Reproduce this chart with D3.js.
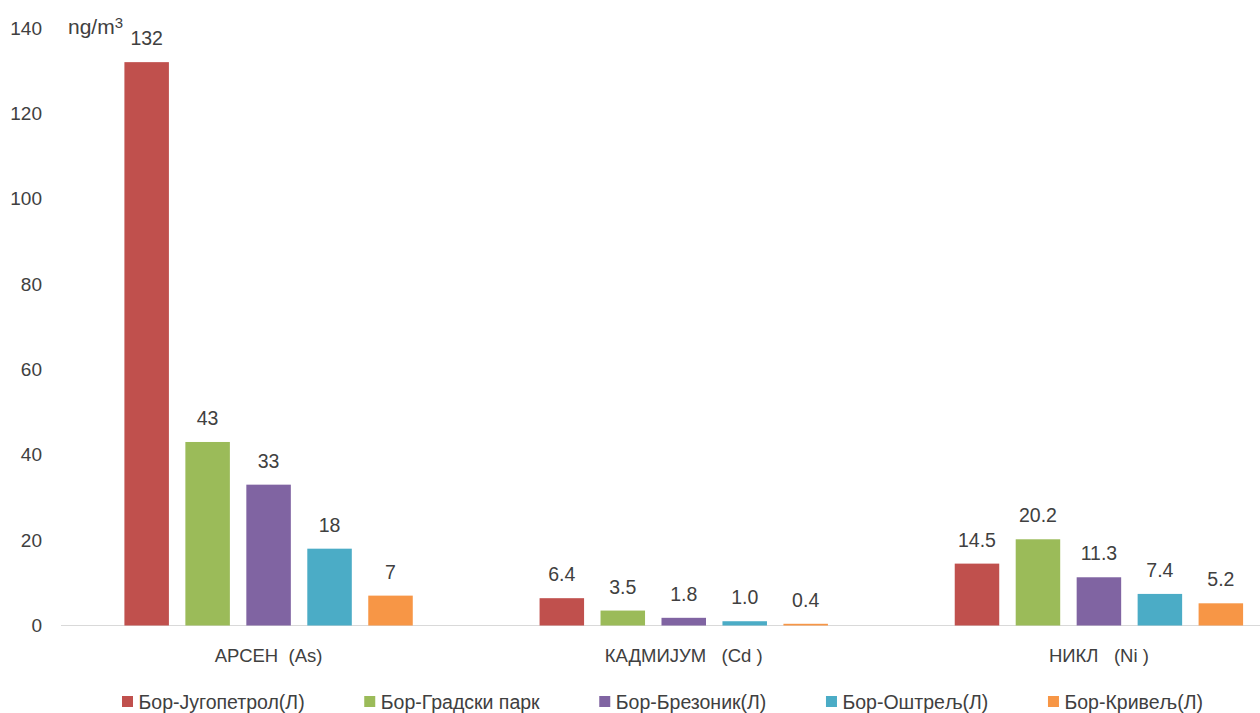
<!DOCTYPE html>
<html>
<head>
<meta charset="utf-8">
<script src="https://cdn.jsdelivr.net/npm/d3@7/dist/d3.min.js"></script>
<style>
  html, body { margin: 0; padding: 0; background: #fff; }
  svg { display: block; }
  text { font-family: "Liberation Sans", Arial, sans-serif; fill: #404040; }
</style>
</head>
<body>
<svg id="chart" width="1260" height="713"></svg>
<script>
const categories = ["АРСЕН  (As)", "КАДМИЈУМ   (Cd )", "НИКЛ   (Ni )"];
const seriesNames = ["Бор-Југопетрол(Л)", "Бор-Градски парк", "Бор-Брезоник(Л)", "Бор-Оштрељ(Л)", "Бор-Кривељ(Л)"];
const seriesColors = ["#C0504D", "#9BBB59", "#8064A2", "#4BACC6", "#F79646"];
// values[series][category]
const jugopetrol = [132, 6.4, 14.5];
const gradskiPark = [43, 3.5, 20.2];
const brezonik = [33, 1.8, 11.3];
const ostrelj = [18, 1.0, 7.4];
const krivelj = [7, 0.4, 5.2];
const seriesValues = [jugopetrol, gradskiPark, brezonik, ostrelj, krivelj];
const labelFormats = ["d", ".1f", ".1f"];
const yTicks = [0, 20, 40, 60, 80, 100, 120, 140];
const unitLabel = "ng/m";
const unitSup = "3";

const svg = d3.select("#chart");

const y = d3.scaleLinear().domain([0, 140]).range([625.5, 28]);
const x0 = d3.scaleBand().domain(categories).range([61, 1306.5]).paddingInner(0).paddingOuter(0);
const x1 = d3.scaleBand().domain(d3.range(seriesNames.length)).range([0, x0.bandwidth()])
  .paddingInner(0.27).paddingOuter(1.04);

// baseline
svg.append("line")
  .attr("x1", 61).attr("x2", 1260)
  .attr("y1", y(0)).attr("y2", y(0))
  .attr("stroke", "#D9D9D9").attr("stroke-width", 1);

// y axis (labels only)
const yAxis = d3.axisLeft(y).tickValues(yTicks).tickSize(0).tickPadding(0);
const gy = svg.append("g").attr("transform", "translate(42,0)").call(yAxis);
gy.select(".domain").remove();
gy.selectAll("text").style("font-size", "19px").attr("fill", "#404040")
  .style("font-family", '"Liberation Sans", Arial, sans-serif');

// unit label
const unit = svg.append("text").attr("x", 68).attr("y", 33.5).style("font-size", "21px").attr("fill", "#262626");
unit.append("tspan").text(unitLabel);
unit.append("tspan").attr("dy", -6).style("font-size", "15px").text(unitSup);

// bars
const groups = svg.selectAll("g.cat").data(categories).enter().append("g")
  .attr("class", "cat")
  .attr("transform", d => `translate(${x0(d)},0)`);

groups.each(function(cat, ci) {
  const g = d3.select(this);
  const data = seriesValues.map((vals, si) => ({ si, v: vals[ci] }));
  g.selectAll("rect").data(data).enter().append("rect")
    .attr("x", d => x1(d.si))
    .attr("width", x1.bandwidth())
    .attr("y", d => y(d.v))
    .attr("height", d => y(0) - y(d.v))
    .attr("fill", d => seriesColors[d.si]);
  const fmt = d3.format(labelFormats[ci]);
  g.selectAll("text.val").data(data).enter().append("text")
    .attr("class", "val")
    .attr("x", d => x1(d.si) + x1.bandwidth() / 2)
    .attr("y", d => y(d.v) - 17)
    .attr("text-anchor", "middle")
    .style("font-size", "19.5px")
    .text(d => fmt(d.v));
});

// category labels
svg.selectAll("text.catlabel").data(categories).enter().append("text")
  .attr("class", "catlabel")
  .attr("x", d => x0(d) + x0.bandwidth() / 2)
  .attr("y", 662)
  .attr("text-anchor", "middle")
  .style("font-size", "18.5px")
  .style("white-space", "pre")
  .attr("xml:space", "preserve")
  .text(d => d);

// legend
const legend = svg.append("g");
const items = legend.selectAll("g").data(seriesNames).enter().append("g");
items.append("rect").attr("x", 0).attr("y", 696).attr("width", 11).attr("height", 11)
  .attr("fill", (d, i) => seriesColors[i]);
items.append("text").attr("x", 16.5).attr("y", 708.5).style("font-size", "19.5px").text(d => d);
const widths = [];
items.each(function() {
  const w = d3.select(this).select("text").node().getComputedTextLength();
  widths.push(16.5 + w);
});
const legendLeft = 122, legendRight = 1203;
const gap = (legendRight - legendLeft - d3.sum(widths)) / (widths.length - 1);
let start = legendLeft;
items.each(function(d, i) {
  d3.select(this).attr("transform", `translate(${start},0)`);
  start += widths[i] + gap;
});
</script>
</body>
</html>
